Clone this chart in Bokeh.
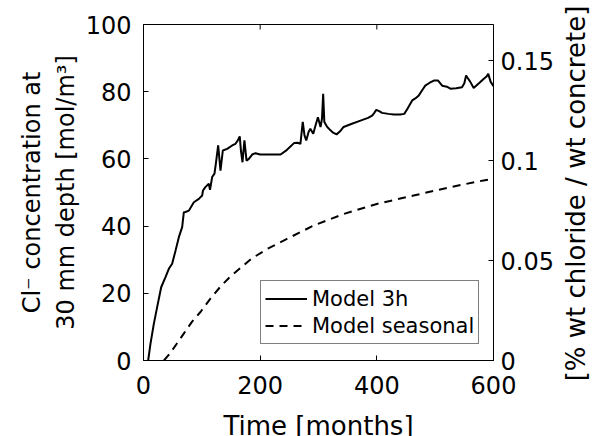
import math
from bokeh.plotting import figure
from bokeh.models import LinearAxis, Range1d, FixedTicker, Legend, LegendItem, Label
from bokeh.embed import file_html
from bokeh.resources import INLINE

# ---- data ----
m3h_month = [8, 12, 17.7, 23.4, 30.3, 37.7, 43.4, 49.1, 54.9, 60.6, 66.3, 69.1, 72, 77.7,
             86.3, 94.9, 100.6, 102, 106, 112, 114, 117.7, 121.7, 124, 128, 132, 136,
             143.4, 152, 157.7, 161.7, 165, 167, 169.7, 173, 176.6, 180.6, 186.3, 192,
             200, 215, 235, 246, 258, 264, 269, 273, 276, 279, 283, 286, 291, 295, 299,
             303.5, 306, 308, 310, 315, 320.6, 325, 331, 337, 343, 355, 372, 385, 392,
             396, 399, 404, 409, 420, 429, 440, 447, 452, 460.6, 466, 472, 478, 483,
             490, 497.7, 505, 512, 520, 526, 536, 546, 550, 553, 556, 560, 566, 575,
             583, 588, 591, 595, 600]
m3h_value = [0, 5, 10.9, 15.9, 21.8, 24.8, 27.3, 28.8, 32.7, 36.7, 39.7, 44.1, 44.2, 44.6,
             47.1, 48.1, 49.1, 50.6, 51.6, 52.6, 50.8, 54.6, 55.6, 58.5, 64, 56.5, 62.5,
             63, 64, 64.5, 65.5, 66.7, 62.5, 59, 65.5, 59.5, 60, 61.3, 61.7,
             61.3, 61.3, 61.3, 62.7, 64.7, 64.8, 64.5, 71, 67, 65.5, 68, 69, 67.5, 70, 72.4,
             69.5, 72, 79.4, 71, 69.5, 68.5, 67.8, 67.3, 68.2, 69.5, 70.3, 71.4, 72.2, 72.9,
             73.8, 74.6, 74.2, 73.7, 73.4, 73.2, 73.2, 73.4, 74.8, 77.4, 78, 78.9, 80.5, 81.8,
             82.6, 83.3, 83.3, 81.8, 81.5, 80.9, 81, 81.3, 82.5, 84.8, 84, 83, 81.1, 82.5,
             83.8, 84.5, 85.3, 83, 81.6]

seas_month = [35, 45, 57, 69, 83, 98, 115, 132, 146, 161, 185, 212, 246, 292, 343, 400,
              463, 526, 583, 600]
seas_value = [0, 2, 5, 8, 11.5, 14.5, 18.5, 22, 24.5, 26.8, 30.3, 33.2, 36.2, 40.2, 43.6,
              46.6, 49.1, 51.6, 53.6, 54.1]

x_ticks = [0, 200, 400, 600]
top_ticks = [200, 400]
y_ticks = [0, 20, 40, 60, 80, 100]
right_ticks = [0, 0.05, 0.1, 0.15]
right_tick_labels = ["0", "0.05", "0.1", "0.15"]
x_label = "Time [months]"
right_label = "[% wt chloride / wt concrete]"

FONT = "DejaVu Sans"

p = figure(width=595, height=436, x_range=Range1d(0, 600), y_range=Range1d(0, 100),
           output_backend="svg", toolbar_location=None,
           min_border_left=143, min_border_right=102, min_border_top=24, min_border_bottom=76)
p.extra_y_ranges = {"right": Range1d(0, 0.168)}

p.grid.visible = False
p.outline_line_color = "black"
p.outline_line_width = 1
p.background_fill_color = "white"
p.border_fill_color = "white"

def style_axis(ax, ticks, fsize="24px"):
    ax.ticker = FixedTicker(ticks=ticks)
    ax.major_tick_in = 5
    ax.major_tick_out = 0
    ax.minor_tick_line_color = None
    ax.axis_line_color = "black"
    ax.major_tick_line_color = "black"
    ax.major_label_text_font = FONT
    ax.major_label_text_font_size = fsize
    ax.major_label_text_color = "black"
    ax.axis_label_text_font = FONT
    ax.axis_label_text_font_style = "normal"
    ax.axis_label_text_color = "black"

xa = p.xaxis[0]
style_axis(xa, x_ticks)
xa.major_label_standoff = 15

ya = p.yaxis[0]
style_axis(ya, y_ticks)
ya.major_label_standoff = 12
ya.axis_label = "Cl\u207b concentration at\n30 mm depth [mol/m\u00b3]"
ya.axis_label_text_font_size = "24px"
ya.axis_label_standoff = 3

ra = LinearAxis(y_range_name="right")
style_axis(ra, right_ticks, "24px")
ra.major_label_overrides = {t: s for t, s in zip(right_ticks, right_tick_labels)}
ra.major_label_standoff = 7
p.add_layout(ra, "right")

# x axis title, in the panel below the tick labels
p.add_layout(Label(x=175, y=1, x_units="screen", y_units="screen", text=x_label,
                   text_align="center", text_baseline="middle",
                   text_font=FONT, text_font_size="26px", text_color="black"), "below")

# right axis title, reading bottom-to-top like the left one
p.add_layout(Label(x=19, y=167, x_units="screen", y_units="screen", text=right_label,
                   angle=math.pi / 2, text_align="center", text_baseline="middle",
                   text_font=FONT, text_font_size="26px", text_color="black"), "right")

# inward ticks on the top edge of the box
p.ray(x=top_ticks, y=[100] * len(top_ticks), length=5, length_units="screen",
      angle=-math.pi / 2, line_color="black", line_width=1)

r1 = p.line(m3h_month, m3h_value, line_color="black", line_width=2)
r2 = p.line(seas_month, seas_value, line_color="black", line_width=2, line_dash="8 6")

legend = Legend(items=[LegendItem(label="Model 3h", renderers=[r1]),
                       LegendItem(label="Model seasonal", renderers=[r2])],
                location=(117, 16), margin=0, padding=4, spacing=0,
                glyph_width=42, glyph_height=27, label_standoff=5,
                label_text_font=FONT, label_text_font_size="21px",
                label_text_color="black",
                border_line_color="black", border_line_width=1,
                background_fill_color="white", background_fill_alpha=1)
p.add_layout(legend, "center")

open("out.html", "w").write(file_html(p, INLINE))
